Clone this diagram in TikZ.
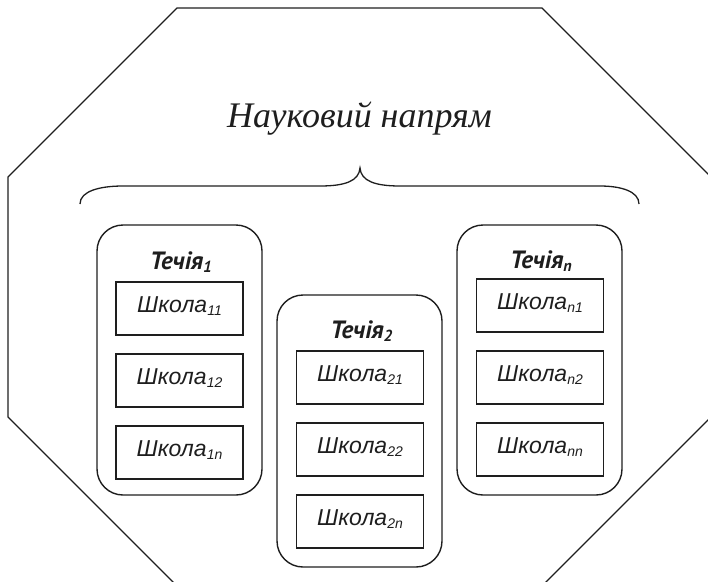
\documentclass[tikz,border=0pt]{standalone}
\usepackage{fontspec}
\setmainfont{Liberation Serif}
\newfontfamily\schoolfont{Liberation Sans}
\newfontfamily\streamfont{PT Sans}
\newcommand\tsub[1]{\raisebox{-3pt}{\fontsize{16}{16}\selectfont #1}}
\newcommand\ssub[1]{\raisebox{-3pt}{\fontsize{14}{14}\selectfont #1}}
\definecolor{ink}{HTML}{1E1E1E}
\begin{document}
\begin{tikzpicture}[x=1pt,y=-1pt,
  octo/.style={draw=ink,line width=1.1pt},
  bracestyle/.style={draw=ink,line width=1.3pt},
  streambox/.style={draw=ink,line width=1.4pt,rounded corners=26pt,minimum width=165pt,inner sep=0pt},
  schoolbox/.style={draw=ink,line width=1.4pt,minimum width=127pt,minimum height=53pt,inner sep=0pt,
     text height=16pt,text depth=9pt,font=\schoolfont\itshape\fontsize{23}{23}\selectfont,text=ink},
  streamtitle/.style={anchor=base,inner sep=0pt,font=\streamfont\bfseries\itshape\fontsize{25}{25}\selectfont,text=ink},
  maintitle/.style={anchor=base,inner sep=0pt,font=\itshape\fontsize{36}{36}\selectfont,text=ink}]
\useasboundingbox (0,0) rectangle (708,581);
\begin{scope}
\clip (0,0) rectangle (708,581);
\draw[octo] (177,8) -- (542,8) -- (711,177) -- (711,417) -- (542,586) -- (177,586) -- (8,417) -- (8,177) -- cycle;
\end{scope}
\node[maintitle] (title) at (359.5,127) {Науковий напрям};
\draw[bracestyle] (80,204) .. controls (80,191) and (100,186) .. (123,186) -- (320,186)
  .. controls (345,186) and (359,181) .. (360,168)
  .. controls (361,181) and (375,186) .. (400,186) -- (600,186)
  .. controls (620,186) and (639,191) .. (639,204);
% streams
\node[streambox,minimum height=270pt] (s1) at (179.5,360) {};
\node[streambox,minimum height=272pt] (s2) at (359.5,431) {};
\node[streambox,minimum height=270pt] (sn) at (539.5,360) {};
\node[streamtitle] (t1) at (181,269) {Течія\tsub{1}};
\node[streamtitle] (t2) at (361.5,338) {Течія\tsub{2}};
\node[streamtitle] (tn) at (541,268) {Течія\tsub{n}};
% schools
\node[schoolbox] (k11) at (179.5,308.5) {Школа\ssub{11}};
\node[schoolbox] (k12) at (179.5,380.5) {Школа\ssub{12}};
\node[schoolbox] (k1n) at (179.5,452.5) {Школа\ssub{1n}};
\node[schoolbox] (k21) at (360,377.5) {Школа\ssub{21}};
\node[schoolbox] (k22) at (360,449.5) {Школа\ssub{22}};
\node[schoolbox] (k2n) at (360,521.5) {Школа\ssub{2n}};
\node[schoolbox] (kn1) at (540,305.5) {Школа\ssub{n1}};
\node[schoolbox] (kn2) at (540,377.5) {Школа\ssub{n2}};
\node[schoolbox] (knn) at (540,449.5) {Школа\ssub{nn}};
\end{tikzpicture}
\end{document}
